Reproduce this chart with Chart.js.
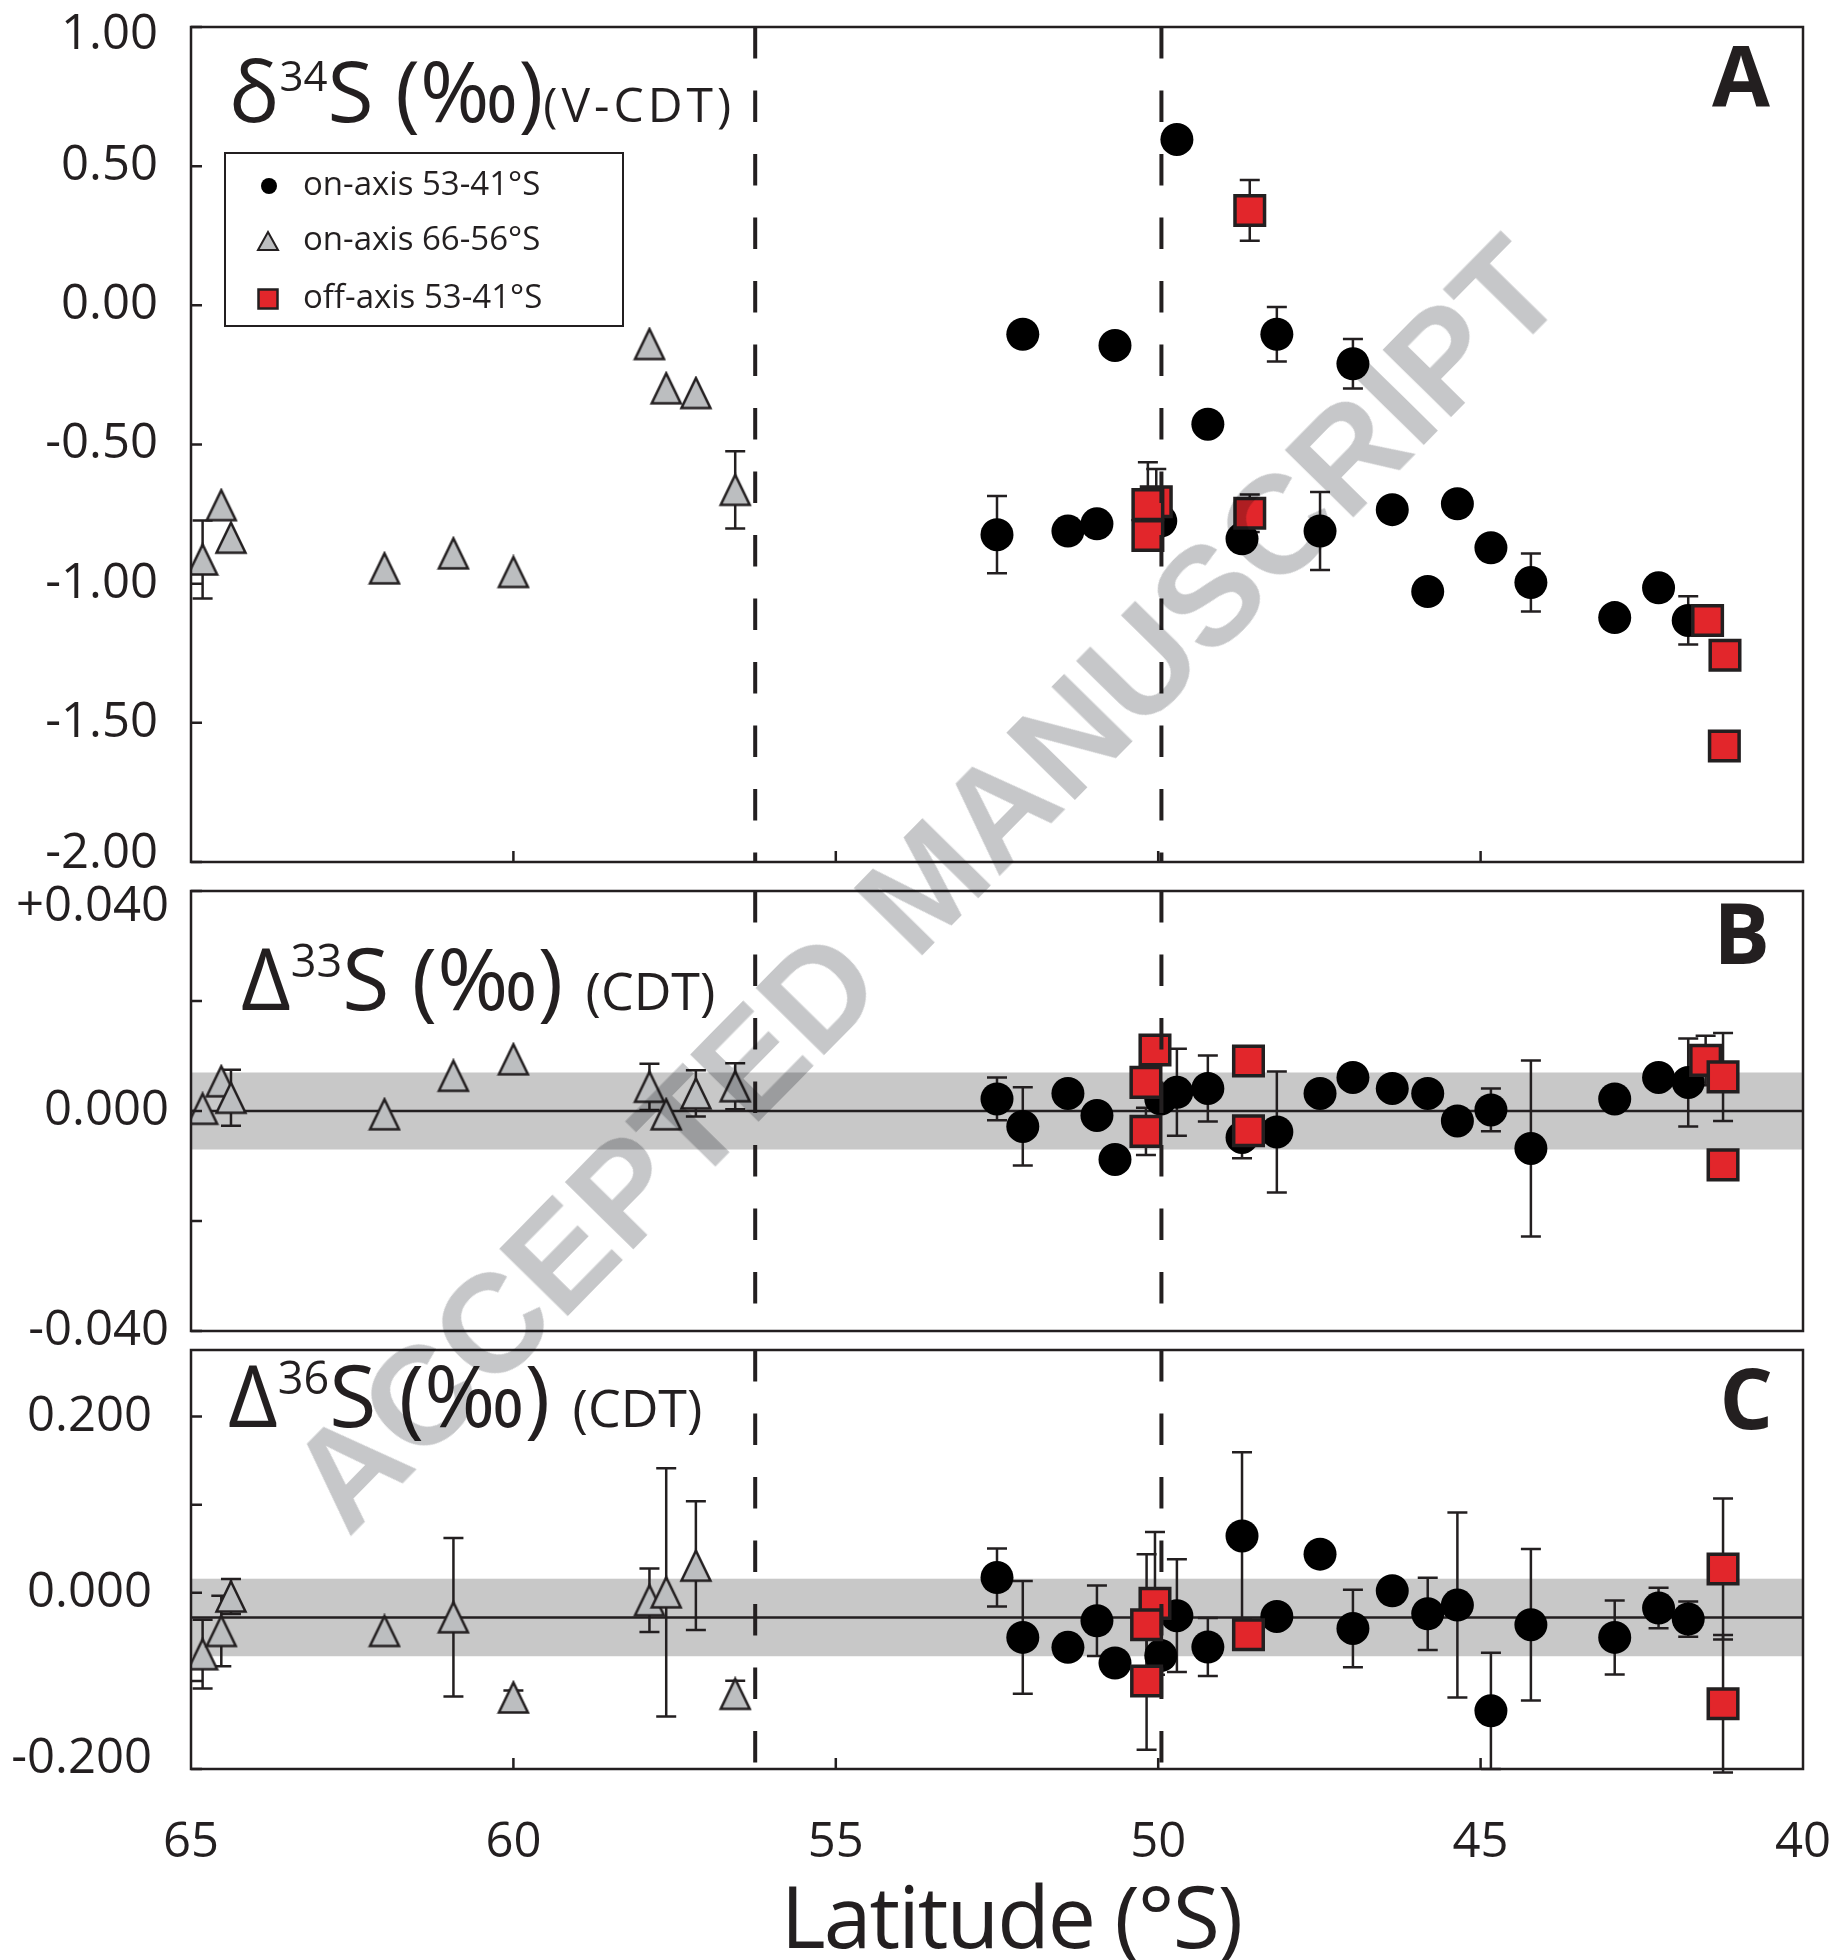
<!DOCTYPE html>
<html>
<head>
<meta charset="utf-8">
<title>Sulfur isotopes vs latitude</title>
<script src="https://cdn.jsdelivr.net/npm/chart.js@4.4.1/dist/chart.umd.min.js"></script>
<style>
html, body { margin: 0; background: #fff; }
#fig { position: relative; width: 1839px; height: 1960px; overflow: hidden;
  font-family: 'Open Sans', 'Noto Sans', sans-serif; color: #231F20; }
#fig canvas { position: absolute; left: 0; top: 0; }
.ttl { position: absolute; white-space: nowrap; line-height: 1; }
.ttl .sup { font-size: 42px; position: relative; top: -31px; }
.ttl .ref { font-size: 48px; letter-spacing: 4px; }
.ttl .ref2 { font-size: 52px; }
.tag { position: absolute; line-height: 1; font-weight: 700; font-size: 84px; }
#legend { position: absolute; left: 224px; top: 152px; width: 400px; height: 175px;
  box-sizing: border-box; border: 2.5px solid #231F20; }
.lg-m { position: absolute; }
.lg-t { position: absolute; left: 303px; font-size: 33px; line-height: 1; white-space: nowrap; }
#xtitle { position: absolute; left: 1011px; top: 1872px; transform: translateX(-50%);
  font-size: 86px; letter-spacing: -2px; line-height: 1; white-space: nowrap; }
#wm { position: absolute; left: 925px; top: 884px; transform: translate(-50%, -50%) rotate(-45.5deg);
  font: bold 140px 'Liberation Sans', Arial, sans-serif; color: #C6C7C9; mix-blend-mode: multiply;
  white-space: nowrap; line-height: 1; pointer-events: none; }
</style>
</head>
<body>
<div id="fig">
  <canvas id="cA" width="1839" height="1960"></canvas>
  <canvas id="cB" width="1839" height="1960"></canvas>
  <canvas id="cC" width="1839" height="1960"></canvas>

  <div class="ttl" style="left:229px; top:48px; font-size:84px;">δ<span class="sup">34</span>S (‰)<span class="ref">(V-CDT)</span></div>
  <div class="ttl" style="left:241px; top:934px; font-size:86px;">Δ<span class="sup" style="font-size:45px;top:-33px">33</span>S (‰) <span class="ref2">(CDT)</span></div>
  <div class="ttl" style="left:228px; top:1351px; font-size:86px;">Δ<span class="sup" style="font-size:45px;top:-33px">36</span>S (‰) <span class="ref2">(CDT)</span></div>

  <div class="tag" style="right:69px; top:32px;">A</div>
  <div class="tag" style="right:69px; top:890px;">B</div>
  <div class="tag" style="right:66px; top:1355px;">C</div>

  <div id="legend"></div>
  <svg class="lg-m" style="left:259px; top:176px" width="20" height="20"><circle cx="10" cy="10" r="8" fill="#000"/></svg>
  <svg class="lg-m" style="left:256px; top:230px" width="24" height="22"><polygon points="12,2 22,20 2,20" fill="#BCBEC0" stroke="#231F20" stroke-width="2"/></svg>
  <svg class="lg-m" style="left:257px; top:288px" width="22" height="22"><rect x="1.5" y="1.5" width="19" height="19" fill="#E2262B" stroke="#231F20" stroke-width="2.5"/></svg>
  <div class="lg-t" style="top:166px">on-axis 53-41°S</div>
  <div class="lg-t" style="top:221px">on-axis 66-56°S</div>
  <div class="lg-t" style="top:279px">off-axis 53-41°S</div>

  <div id="xtitle">Latitude (°S)</div>
  <div id="wm">ACCEPTED MANUSCRIPT</div>
</div>

<script>
// --- latitude axis (°S, shared by the three panels) ---
const latTicks = [65, 60, 55, 50, 45, 40];
const latTickLabels = ['65', '60', '55', '50', '45', '40'];
const latInnerTicks = [60, 55, 50, 45];
const ridgeLats = [56.25, 49.95];          // dashed verticals

// --- on-axis 53-41°S (same samples in A, B, C) ---
const latOn = [52.50, 52.10, 51.40, 50.95, 50.67, 49.96, 49.71, 49.23, 48.70, 48.16,
               47.49, 46.98, 46.37, 45.82, 45.36, 44.84, 44.22, 42.92, 42.24, 41.78];
const d34On    = [-0.824, -0.104, -0.811, -0.785, -0.144, -0.775, 0.596, -0.427, -0.839, -0.104,
                  -0.811, -0.210, -0.734, -1.028, -0.713, -0.871, -0.996, -1.122, -1.015, -1.132];
const d34OnErr = [0.139, 0, 0, 0, 0, 0, 0, 0, 0, 0.098,
                  0.140, 0.089, 0, 0, 0, 0, 0.104, 0, 0, 0.087];
const D33On    = [0.0022, -0.0028, 0.0032, -0.0008, -0.0088, 0.0022, 0.0034, 0.0041, -0.0048, -0.0038,
                  0.0032, 0.0061, 0.0041, 0.0032, -0.0018, 0.0002, -0.0068, 0.0022, 0.0061, 0.0052];
const D33OnErr = [0.0039, 0.0071, 0, 0, 0, 0, 0.0079, 0.0060, 0.0038, 0.0110,
                  0, 0, 0, 0, 0, 0.0039, 0.0160, 0, 0, 0.0080];
const D36On    = [0.0174, -0.0506, -0.0619, -0.0317, -0.0797, -0.0713, -0.0260, -0.0615, 0.0646, -0.0268,
                  0.0439, -0.0404, 0.0023, -0.0238, -0.0139, -0.1340, -0.0362, -0.0506, -0.0173, -0.0298];
const D36OnErr = [0.033, 0.064, 0, 0.040, 0, 0, 0.064, 0.033, 0.095, 0,
                  0, 0.044, 0, 0.041, 0.105, 0.066, 0.086, 0.042, 0.023, 0.020];

// --- on-axis 66-56°S ---
const latTri    = [64.82, 64.53, 64.38, 62.00, 60.93, 60.00, 57.89, 57.63, 57.17, 56.56];
const d34Tri    = [-0.913, -0.718, -0.835, -0.945, -0.891, -0.958, -0.139, -0.298, -0.315, -0.663];
const d34TriErr = [0.140, 0, 0, 0, 0, 0, 0, 0, 0, 0.139];
const D33Tri    = [0.0004, 0.0054, 0.0024, -0.0006, 0.0064, 0.0094, 0.0044, -0.0006, 0.0032, 0.0045];
const D33TriErr = [0, 0, 0.0051, 0, 0, 0, 0.0042, 0, 0.0042, 0.0042];
const D36Tri    = [-0.0697, -0.0433, -0.0042, -0.0433, -0.0278, -0.1188, -0.0085, 0.0005, 0.0308, -0.1147];
const D36TriErr = [0.039, 0.040, 0.020, 0, 0.090, 0.008, 0.036, 0.141, 0.073, 0.015];

// --- off-axis 53-41°S ---
const latOffA   = [48.58, 48.58, 50.03, 50.16, 50.16, 41.48, 41.21, 41.22];
const d34Off    = [0.341, -0.747, -0.706, -0.716, -0.827, -1.132, -1.257, -1.583];
const d34OffErr = [0.109, 0.067, 0.118, 0.152, 0, 0, 0, 0];
const latOffB   = [50.05, 50.19, 50.19, 48.60, 48.60, 41.51, 41.24, 41.24];
const D33Off    = [0.0111, 0.0052, -0.0037, 0.0091, -0.0036, 0.0092, 0.0062, -0.0098];
const D33OffErr = [0, 0, 0.0043, 0, 0, 0.0045, 0.0080, 0];
const latOffC   = [50.05, 50.18, 50.18, 48.60, 41.24, 41.24];
const D36Off    = [-0.0120, -0.0362, -0.1001, -0.0476, 0.0270, -0.1259];
const D36OffErr = [0.081, 0.080, 0.078, 0, 0.080, 0.078];

// --- y axes ---
const ticksA = [1.0, 0.5, 0.0, -0.5, -1.0, -1.5, -2.0];
const labelsA = ['1.00', '0.50', '0.00', '-0.50', '-1.00', '-1.50', '-2.00'];
const ticksB = [0.04, 0.02, 0, -0.02, -0.04];
const labelsB = ['+0.040', '', '0.000', '', '-0.040'];
const ticksC = [0.2, 0.1, 0, -0.1, -0.2];
const labelsC = ['0.200', '', '0.000', '', '-0.200'];
const bandB = [-0.007, 0.007], meanB = 0;
const bandC = [-0.072, 0.016], meanC = -0.028;

const INK = '#231F20', RED = '#E2262B', GREY = '#BCBEC0', BAND = '#C8C8C8';
const FONT = "'Open Sans', 'Noto Sans', sans-serif";

function xy(xs, ys) { return xs.map(function (x, i) { return { x: x, y: ys[i] }; }); }

// grey triangle drawn centred on its box, like the original symbols
function triangleMarker(w, h, lw) {
  var c = document.createElement('canvas');
  c.width = Math.ceil(w + lw * 2); c.height = Math.ceil(h + lw * 2);
  var g = c.getContext('2d'), cx = c.width / 2, top = (c.height - h) / 2;
  g.beginPath();
  g.moveTo(cx, top); g.lineTo(cx + w / 2, top + h); g.lineTo(cx - w / 2, top + h); g.closePath();
  g.fillStyle = GREY; g.fill();
  g.lineWidth = lw; g.strokeStyle = INK; g.stroke();
  return c;
}
const TRI = triangleMarker(29, 30, 2.5);

// band, mean line, error bars behind the points; dashes, frame, ticks on top
const deco = {
  id: 'deco',
  beforeDatasetsDraw(chart, args, o) {
    var ctx = chart.ctx, a = chart.chartArea, x = chart.scales.x, y = chart.scales.y;
    ctx.save();
    if (o.band) {
      var y1 = y.getPixelForValue(o.band[1]), y2 = y.getPixelForValue(o.band[0]);
      ctx.fillStyle = BAND; ctx.fillRect(a.left, y1, a.right - a.left, y2 - y1);
    }
    if (o.mean != null) {
      var ym = y.getPixelForValue(o.mean);
      ctx.strokeStyle = INK; ctx.lineWidth = 2.5;
      ctx.beginPath(); ctx.moveTo(a.left, ym); ctx.lineTo(a.right, ym); ctx.stroke();
    }
    ctx.strokeStyle = INK; ctx.lineWidth = 2.5;
    chart.data.datasets.forEach(function (ds) {
      if (!ds.errors) return;
      ds.data.forEach(function (p, j) {
        var e = ds.errors[j];
        if (!e) return;
        var px = x.getPixelForValue(p.x), t = y.getPixelForValue(p.y + e), b = y.getPixelForValue(p.y - e);
        ctx.beginPath();
        ctx.moveTo(px, t); ctx.lineTo(px, b);
        ctx.moveTo(px - 10, t); ctx.lineTo(px + 10, t);
        ctx.moveTo(px - 10, b); ctx.lineTo(px + 10, b);
        ctx.stroke();
      });
    });
    ctx.restore();
  },
  afterDatasetsDraw(chart, args, o) {
    var ctx = chart.ctx, a = chart.chartArea, x = chart.scales.x, y = chart.scales.y;
    ctx.save();
    ctx.strokeStyle = INK;
    ctx.lineWidth = 4; ctx.setLineDash([31.5, 32]);
    ridgeLats.forEach(function (v) {
      var px = x.getPixelForValue(v);
      ctx.beginPath(); ctx.moveTo(px, a.top); ctx.lineTo(px, a.bottom); ctx.stroke();
    });
    ctx.setLineDash([]);
    ctx.lineWidth = 2.5;
    ctx.strokeRect(a.left, a.top, a.right - a.left, a.bottom - a.top);
    ctx.beginPath();
    y.ticks.forEach(function (t) {
      var py = y.getPixelForValue(t.value);
      ctx.moveTo(a.left, py); ctx.lineTo(a.left + 11, py);
    });
    if (o.xTicks) latInnerTicks.forEach(function (v) {
      var px = x.getPixelForValue(v);
      ctx.moveTo(px, a.bottom); ctx.lineTo(px, a.bottom - 11);
    });
    ctx.stroke();
    ctx.restore();
  }
};

// the end labels sit a little inside the frame: a blank extra line nudges them by half a line
function yLabel(o) {
  var n = o.labels.length;
  return function (v, i) {
    var s = o.labels[i];
    if (i === 0 && o.nudgeTop) return ['', s];
    if (i === n - 1 && o.nudgeBottom) return [s, ''];
    return s;
  };
}

function panel(id, o) {
  return new Chart(document.getElementById(id), {
    type: 'scatter',
    data: {
      datasets: [
        { label: 'off-axis 53-41°S', data: xy(o.offLat, o.off), errors: o.offErr,
          pointStyle: 'rect', pointRadius: 20.9, pointHoverRadius: 20.9,
          backgroundColor: RED, borderColor: INK, borderWidth: 3.5, order: 1 },
        { label: 'on-axis 53-41°S', data: xy(latOn, o.on), errors: o.onErr,
          pointStyle: 'circle', pointRadius: 16.5, pointHoverRadius: 16.5,
          backgroundColor: '#000', borderWidth: 0, order: 2 },
        { label: 'on-axis 66-56°S', data: xy(latTri, o.tri), errors: o.triErr,
          pointStyle: TRI, pointRadius: 16, order: 3 }
      ]
    },
    options: {
      responsive: false, animation: false, events: [],
      layout: { padding: { left: 0, right: 36, top: o.top, bottom: o.bottom } },
      plugins: {
        legend: { display: false }, tooltip: { enabled: false },
        deco: { band: o.band || null, mean: o.mean, xTicks: o.xTicks }
      },
      scales: {
        x: {
          type: 'linear', min: 40, max: 65, reverse: true, display: !!o.showX,
          grid: { display: false, drawTicks: false }, border: { display: false },
          afterBuildTicks: function (s) { s.ticks = latTicks.map(function (v) { return { value: v }; }); },
          afterFit: function (s) {
            if (o.showX) s.height = 110;
            s.paddingLeft = 0; s.paddingRight = 0;
          },
          ticks: { autoSkip: false, maxRotation: 0, padding: 45, color: INK,
                   font: { family: FONT, size: 49 },
                   callback: function (v, i) { return latTickLabels[i]; } }
        },
        y: {
          type: 'linear', min: o.min, max: o.max,
          grid: { display: false, drawTicks: false }, border: { display: false },
          afterBuildTicks: function (s) { s.ticks = o.ticks.map(function (v) { return { value: v }; }); },
          afterFit: function (s) { s.width = 191; s.paddingTop = 0; s.paddingBottom = 0; },
          ticks: { autoSkip: false, padding: o.labelPad, color: INK,
                   font: { family: FONT, size: 49, lineHeight: o.lh || 1.2 },
                   callback: yLabel(o) }
        }
      }
    },
    plugins: [deco]
  });
}

panel('cA', { top: 27, bottom: 1098, min: -2, max: 1, ticks: ticksA, labels: labelsA, labelPad: 33,
  lh: 0.33, nudgeTop: true, nudgeBottom: true,
  on: d34On, onErr: d34OnErr, tri: d34Tri, triErr: d34TriErr,
  offLat: latOffA, off: d34Off, offErr: d34OffErr, xTicks: true });

panel('cB', { top: 891, bottom: 629, min: -0.04, max: 0.04, ticks: ticksB, labels: labelsB, labelPad: 22,
  lh: 0.65, nudgeTop: true,
  on: D33On, onErr: D33OnErr, tri: D33Tri, triErr: D33TriErr,
  offLat: latOffB, off: D33Off, offErr: D33OffErr, band: bandB, mean: meanB });

panel('cC', { top: 1350, bottom: 81, min: -0.2, max: 0.2756, ticks: ticksC, labels: labelsC, labelPad: 39,
  lh: 0.41, nudgeBottom: true,
  on: D36On, onErr: D36OnErr, tri: D36Tri, triErr: D36TriErr,
  offLat: latOffC, off: D36Off, offErr: D36OffErr, band: bandC, mean: meanC,
  xTicks: true, showX: true });
</script>
</body>
</html>
